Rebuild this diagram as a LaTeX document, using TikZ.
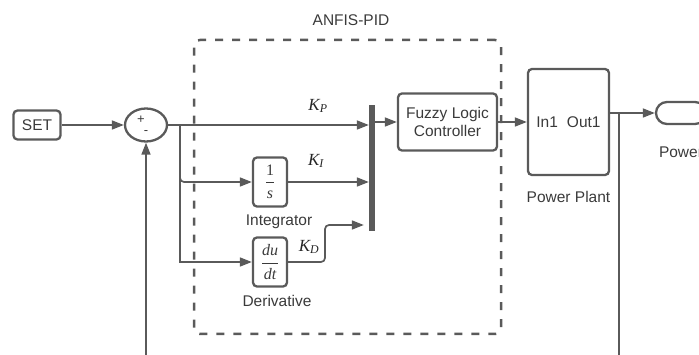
\documentclass[tikz,border=0pt]{standalone}
\usepackage{amsmath}
\usepackage{fontspec}
\setmainfont{Liberation Sans}
\newfontfamily\tms{Liberation Serif}
\usepackage{xcolor}
\usetikzlibrary{arrows.meta,positioning,shapes.geometric}

\definecolor{ln}{HTML}{5A5A5A}
\definecolor{tx}{HTML}{3A3A3A}
\newcommand{\gk}[1]{{\tms\itshape K}\textsubscript{\tms\itshape #1}}
\newcommand{\vr}[1]{\text{\tms\itshape #1}}

\begin{document}
\begin{tikzpicture}[
			x=1pt, y=-1pt,
			blk/.style={rectangle, draw=ln, line width=2.3pt, rounded corners=4pt, align=center, text=tx, inner sep=0pt},
			sumn/.style={ellipse, draw=ln, line width=2.3pt, minimum width=42pt, minimum height=33pt, inner sep=0pt},
			bar/.style={rectangle, fill=ln, minimum width=6pt, minimum height=126pt, inner sep=0pt},
			anfisbox/.style={rectangle, draw=ln, line width=2.5pt, dash pattern=on 8pt off 9pt, rounded corners=6pt, inner sep=0pt},
			lbl/.style={text=tx, inner sep=0pt},
			gain/.style={text=black!85, inner sep=0pt, font=\fontsize{17}{18}\selectfont},
			sgn/.style={text=tx, inner sep=0pt, font=\fontsize{13}{13}\selectfont},
			sig/.style={draw=ln, line width=1.7pt, ->},
			>={Triangle[length=12pt,width=9pt]},
			font=\fontsize{15.5}{18}\selectfont
			]
			
			\useasboundingbox (0,0) rectangle (699,355);
			\clip (0,0) rectangle (699,355);
			
			% Bloco ANFIS-PID
			\node[anfisbox, minimum width=307pt, minimum height=294pt] (anfis) at (347.5,187) {};
			\node[lbl] (title) [above=13pt of anfis, xshift=3.5pt] {ANFIS-PID};
			
			% Entrada e somador
			\node[blk, minimum width=47pt, minimum height=29pt] (set) at (37,125) {SET};
			\node[sumn] (sum) at (146,125) {};
			\node[sgn] (plus) at (141,120) {+};
			\node[sgn] (minus) at (146,133) {-};
			\coordinate (br) at (180,125);
			
			% Ganhos
			\node[bar] (mux) at (372,168) {};
			\node[blk, minimum width=34pt, minimum height=49pt, font=\fontsize{16}{17}\selectfont] (integ) at (270,182) {$\dfrac{\text{\tms 1}}{\vr{s}}$};
			\node[blk, minimum width=34pt, minimum height=49pt, font=\fontsize{16}{17}\selectfont] (deriv) at (270,262) {$\dfrac{\vr{du}}{\vr{dt}}$};
			\node[lbl] (integl) [below=7pt of integ, xshift=9pt] {Integrator};
			\node[lbl] (derivl) [below=7pt of deriv, xshift=7pt] {Derivative};
			\node[gain] (kp) at (318,106) {\gk{P}};
			\node[gain] (ki) at (316,161) {\gk{I}};
			\node[gain] (kd) at (309,247) {\gk{D}};
			\coordinate (dk) at (325,225);
			
			% Controlador e planta
			\node[blk, minimum width=99pt, minimum height=57pt] (flc) at (447.5,122) {Fuzzy Logic\\Controller};
			\node[blk, minimum width=81pt, minimum height=106pt] (pp) at (568.5,122) {In1\hspace{9pt}Out1};
			\node[lbl] (ppl) [below=15pt of pp] {Power Plant};
			\coordinate (ppo) at ([yshift=9pt]pp.east);
			\node[blk, rounded corners=11pt, minimum width=50pt, minimum height=22pt] (pout) at (681,113) {};
			\node[lbl] (poutl) [below=21pt of pout] {Power};
			\coordinate (fbr) at (619,113);
			\coordinate (fbb) at (619,380);
			
			% Ligações
			\draw[sig] (set) -- (sum);
			\draw[sig] (sum.east) -- (sum.east -| mux.west);
			\draw[sig, rounded corners=4pt] (br) |- (integ.west);
			\draw[sig] (br) |- (deriv.west);
			\draw[sig] (integ.east) -- (integ.east -| mux.west);
			\draw[sig, rounded corners=4pt, shorten >=5pt] (deriv.east) -| (dk) -- (dk -| mux.west);
			\draw[sig] (mux.east |- flc.west) -- (flc.west);
			\draw[sig] (flc.east) -- (pp.west);
			\draw[sig] (ppo) -- (pout.west);
			\draw[sig] (fbr) -- (fbb) -| (sum.south); % realimentação
			
		\end{tikzpicture}
\end{document}
